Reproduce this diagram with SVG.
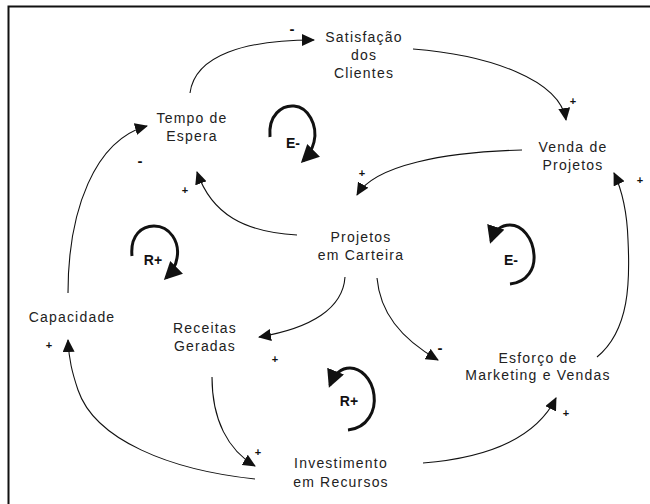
<svg xmlns="http://www.w3.org/2000/svg" width="650" height="504" viewBox="0 0 650 504">
<style>
.lbl{font-family:"Liberation Sans",Arial,sans-serif;font-size:14px;letter-spacing:1.2px;fill:#222;text-anchor:middle}
.sg{font-family:"Liberation Sans",Arial,sans-serif;font-size:11px;font-weight:bold;fill:#111;text-anchor:middle;dominant-baseline:central}
.mn{font-family:"Liberation Sans",Arial,sans-serif;font-size:15px;font-weight:bold;fill:#111;text-anchor:middle;dominant-baseline:central}
.lp{font-family:"Liberation Sans",Arial,sans-serif;font-size:14px;font-weight:bold;fill:#111;text-anchor:middle}
.cn{fill:none;stroke:#111;stroke-width:1.1;marker-end:url(#ah)}
.loop{fill:none;stroke:#111;stroke-width:3;marker-end:url(#lh)}
</style>
<defs>
<marker id="ah" markerUnits="userSpaceOnUse" markerWidth="14" markerHeight="12" refX="12" refY="6" orient="auto">
<path d="M0,0 L13,6 L0,12 z" fill="#111"/>
</marker>
<marker id="lh" markerUnits="userSpaceOnUse" markerWidth="20" markerHeight="20" refX="15" refY="9" orient="auto">
<path d="M0,0 L18,9 L0,18 z" fill="#111"/>
</marker>
</defs>
<rect x="0" y="0" width="650" height="504" fill="#fff"/>
<path d="M8.5,504 L8.5,6.5 L650,6.5" fill="none" stroke="#111" stroke-width="2"/>

<g id="connectors">
<path class="cn" d="M190,93 C195,55 245,40 314,40"/>
<path class="cn" d="M68,293 C68,210 95,140 147,126"/>
<path class="cn" d="M297,235 C245,232 212,215 197,172"/>
<path class="cn" d="M413,49 C490,55 560,80 566,120"/>
<path class="cn" d="M522,150 C445,152 375,165 357,195"/>
<path class="cn" d="M597,357 C630,330 630,280 628,240 C627,210 622,190 614,173"/>
<path class="cn" d="M345,277 C343,308 312,328 259,337"/>
<path class="cn" d="M377,278 C380,312 400,338 438,360"/>
<path class="cn" d="M212,377 C212,420 228,450 255,466"/>
<path class="cn" d="M255,479 C170,470 95,440 78,390 C72,372 69,360 68,340"/>
<path class="cn" d="M423,463 C485,458 535,440 556,398"/>
</g>

<g id="signs">
<text class="mn" x="292" y="28">-</text>
<text class="mn" x="140" y="160">-</text>
<text class="sg" x="185" y="190">+</text>
<text class="sg" x="573" y="101">+</text>
<text class="sg" x="362" y="173">+</text>
<text class="sg" x="640" y="180">+</text>
<text class="mn" x="440" y="347">-</text>
<text class="sg" x="275" y="359">+</text>
<text class="sg" x="258" y="452">+</text>
<text class="sg" x="49" y="345">+</text>
<text class="sg" x="566" y="413">+</text>
</g>

<g id="loop-e1">
<path class="loop" d="M270,137 C268,115 282,105 294,106 C308,107 318,125 314,142 C312,150 308,156 303,161"/>
<text class="lp" x="293" y="148">E-</text>
</g>
<g id="loop-r1">
<path class="loop" d="M132,256 C130,235 142,226 154,226 C170,226 180,242 177,258 C176,265 172,272 166,278"/>
<text class="lp" x="153" y="265">R+</text>
</g>
<g id="loop-e2">
<path class="loop" d="M510,284 C528,282 535,268 534,255 C533,238 522,225 510,225 C500,225 494,232 491,241"/>
<text class="lp" x="511" y="265">E-</text>
</g>
<g id="loop-r2">
<path class="loop" d="M348,430 C368,428 376,410 374,395 C372,378 360,368 350,368 C340,368 334,375 330,385"/>
<text class="lp" x="349" y="406">R+</text>
</g>

<g id="node-tempo"><text class="lbl" x="192" y="123">Tempo de</text><text class="lbl" x="192" y="141">Espera</text></g>
<g id="node-satisfacao"><text class="lbl" x="364" y="42">Satisfação</text><text class="lbl" x="364" y="60">dos</text><text class="lbl" x="364" y="78">Clientes</text></g>
<g id="node-venda"><text class="lbl" x="573" y="152">Venda de</text><text class="lbl" x="573" y="170">Projetos</text></g>
<g id="node-projetos"><text class="lbl" x="361" y="242">Projetos</text><text class="lbl" x="361" y="260">em Carteira</text></g>
<g id="node-capacidade"><text class="lbl" x="72" y="322">Capacidade</text></g>
<g id="node-receitas"><text class="lbl" x="205" y="333">Receitas</text><text class="lbl" x="205" y="351">Geradas</text></g>
<g id="node-esforco"><text class="lbl" x="538" y="363">Esforço de</text><text class="lbl" x="538" y="380">Marketing e Vendas</text></g>
<g id="node-investimento"><text class="lbl" x="341" y="468">Investimento</text><text class="lbl" x="341" y="487">em Recursos</text></g>
</svg>
